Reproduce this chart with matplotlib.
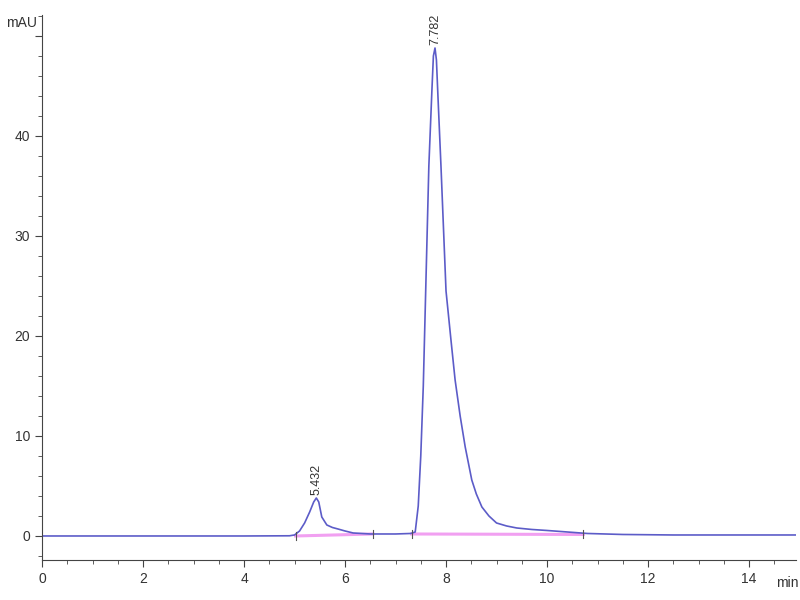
import matplotlib
matplotlib.use("Agg")
import matplotlib.pyplot as plt
from matplotlib.ticker import MultipleLocator

# Chromatogram trace (time in min, signal in mAU)
time = [0.0, 1.0, 2.0, 3.0, 4.0, 4.9, 5.0, 5.1, 5.2, 5.3, 5.38, 5.432, 5.48,
        5.54, 5.64, 5.75, 5.86, 6.0, 6.16, 6.5, 7.0, 7.3, 7.39, 7.45, 7.5,
        7.55, 7.6, 7.66, 7.72, 7.75, 7.782, 7.81, 7.84, 7.9, 8.0, 8.1, 8.18,
        8.28, 8.38, 8.51, 8.6, 8.71, 8.85, 9.0, 9.2, 9.4, 9.7, 10.0, 10.4,
        10.8, 11.5, 12.5, 15.0]
signal = [0.0, 0.0, 0.0, 0.0, 0.0, 0.02, 0.1, 0.5, 1.3, 2.4, 3.4, 3.8, 3.4,
          1.9, 1.1, 0.85, 0.7, 0.5, 0.3, 0.2, 0.2, 0.25, 0.4, 3.0, 8.0,
          15.0, 25.0, 37.0, 44.5, 48.0, 48.8, 47.6, 44.0, 37.0, 24.5, 19.5,
          15.6, 12.0, 8.9, 5.6, 4.2, 2.9, 2.0, 1.3, 1.0, 0.8, 0.65, 0.55, 0.4,
          0.25, 0.15, 0.1, 0.1]

# Integration baselines
base1_t = [5.02, 6.55]
base1_y = [0.0, 0.2]
base2_t = [7.32, 10.72]
base2_y = [0.2, 0.15]

peak_rt = [5.432, 7.782]
peak_h = [3.8, 48.8]
peak_lbl = ["5.432", "7.782"]

y_ticks = [0, 10, 20, 30, 40, 50]
y_labels = ["0", "10", "20", "30", "40", ""]

plt.rcParams['font.family'] = ['Liberation Sans', 'DejaVu Sans']

fig = plt.figure(figsize=(8, 6), dpi=100)
ax = fig.add_axes([0.0525, 0.0667, 0.9425, 0.9083])

ax.plot(base1_t, base1_y, color='#ee88ee', lw=2.2, alpha=0.8)
ax.plot(base2_t, base2_y, color='#ee88ee', lw=2.2, alpha=0.8)
ax.plot(time, signal, color='#5c5cc8', lw=1.2)

for t, y in zip(base1_t + base2_t, base1_y + base2_y):
    ax.plot([t, t], [y - 0.4, y + 0.4], color='#555555', lw=0.8)

for t, h, s in zip(peak_rt, peak_h, peak_lbl):
    ax.text(t, h + 0.3, s, rotation=90, ha='center', va='bottom',
            fontsize=9, color='#333333', clip_on=False)

ax.set_xlim(0, 14.93)
ax.set_ylim(-2.4, 52.1)
ax.xaxis.set_major_locator(MultipleLocator(2))
ax.xaxis.set_minor_locator(MultipleLocator(0.5))
ax.set_yticks(y_ticks, y_labels)
ax.yaxis.set_minor_locator(MultipleLocator(2))
ax.tick_params(which='both', direction='out', colors='#444444', labelsize=10,
               labelcolor='#333333')
ax.tick_params(which='major', length=5)
ax.tick_params(which='minor', length=3)

for side in ['top', 'right']:
    ax.spines[side].set_visible(False)
for side in ['left', 'bottom']:
    ax.spines[side].set_color('#444444')

fig.text(0.008, 0.955, "mAU", fontsize=10, color='#333333')
fig.text(0.998, 0.022, "min", fontsize=10, color='#333333', ha='right')

fig.savefig("out.png", dpi=100)
